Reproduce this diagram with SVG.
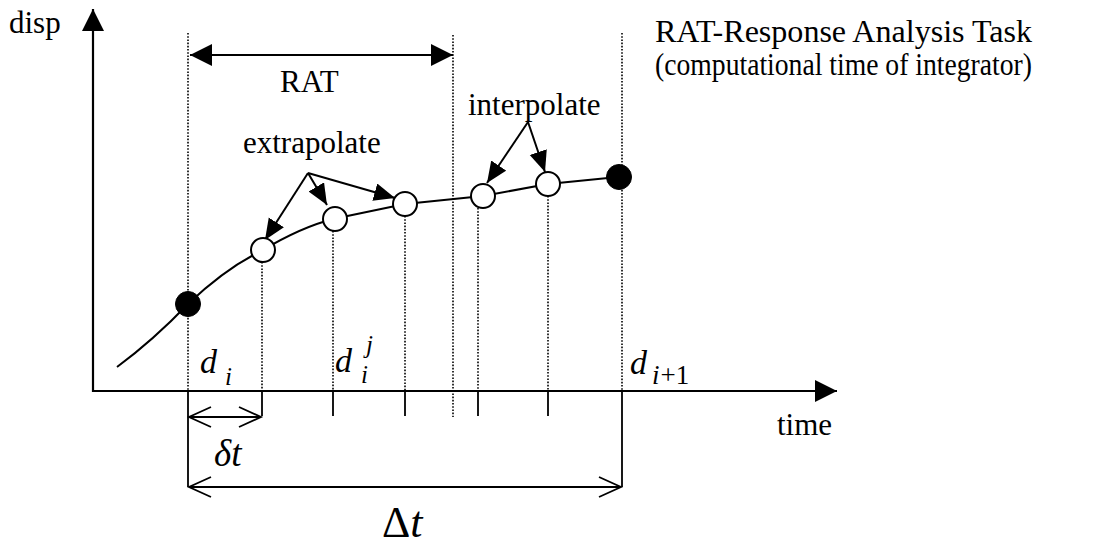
<svg xmlns="http://www.w3.org/2000/svg" width="1094" height="546" viewBox="0 0 1094 546">
<defs>
<style>
.t{font-family:"Liberation Serif","Times New Roman",serif;font-size:31px;fill:#000}
.m{font-family:"Liberation Serif","Times New Roman",serif;font-style:italic;fill:#000}
.ax{stroke:#000;stroke-width:2.2;fill:none}
.ln{stroke:#000;stroke-width:2;fill:none}
.dot{stroke:#000;stroke-width:1.6;stroke-dasharray:1.6 1.6;fill:none}
.tick{stroke:#000;stroke-width:1.8;fill:none}
.dim{stroke:#000;stroke-width:1.8;fill:none}
.open{fill:#fff;stroke:#000;stroke-width:2}
.full{fill:#000;stroke:#000;stroke-width:1}
</style>
<marker id="ah" markerUnits="userSpaceOnUse" markerWidth="24" markerHeight="20" refX="21" refY="9" orient="auto">
<path d="M0,0 L21,9 L0,18 z" fill="#000"/>
</marker>
<marker id="big" markerUnits="userSpaceOnUse" markerWidth="24" markerHeight="24" refX="22" refY="11" orient="auto-start-reverse">
<path d="M0,0 L22,11 L0,22 z" fill="#000"/>
</marker>
<marker id="oa" markerUnits="userSpaceOnUse" markerWidth="26" markerHeight="26" refX="23" refY="12" orient="auto-start-reverse">
<path d="M1,2 L23,12 L1,22" fill="none" stroke="#000" stroke-width="1.8"/>
</marker>
</defs>

<g id="connectors">
<path class="dot" d="M188,33 V391 M262,262 V391 M333,231 V391 M405,216 V391 M453,35 V417 M478,208 V391 M548,196 V391 M622,33 V391"/>
<path class="tick" d="M188,391 V487 M262,391 V416 M333,391 V416 M405,391 V416 M478,391 V416 M548,391 V416 M622,391 V487"/>
<line id="y-axis" class="ax" x1="93" y1="392" x2="93" y2="9" marker-end="url(#big)"/>
<line id="x-axis" class="ax" x1="92" y1="391" x2="837" y2="391" marker-end="url(#big)"/>
<line class="ax" x1="190" y1="55" x2="453" y2="55" marker-start="url(#big)" marker-end="url(#big)"/>
<line class="dim" x1="189" y1="417" x2="261" y2="417" marker-start="url(#oa)" marker-end="url(#oa)"/>
<line class="dim" x1="189" y1="487" x2="621" y2="487" marker-start="url(#oa)" marker-end="url(#oa)"/>
<path class="ln" d="M117,367 C140,350 165,328 188,304 C210,283 236,263 263,250 C288,235 310,225 333,219 L405,204 L483,196 L548,184 L618,177"/>
<line class="ln" x1="308" y1="173" x2="265" y2="240" marker-end="url(#ah)"/>
<line class="ln" x1="308" y1="173" x2="327" y2="205" marker-end="url(#ah)"/>
<line class="ln" x1="308" y1="173" x2="395" y2="198" marker-end="url(#ah)"/>
<line class="ln" x1="528" y1="122" x2="487" y2="183" marker-end="url(#ah)"/>
<line class="ln" x1="528" y1="122" x2="545" y2="172" marker-end="url(#ah)"/>
</g>

<g id="n-di"><circle class="full" cx="188" cy="304" r="12.5"/></g>
<g id="n-p1"><circle class="open" cx="263" cy="250" r="12"/></g>
<g id="n-p2"><circle class="open" cx="335" cy="219" r="12"/></g>
<g id="n-p3"><circle class="open" cx="405" cy="204" r="12"/></g>
<g id="n-p4"><circle class="open" cx="483" cy="196" r="12"/></g>
<g id="n-p5"><circle class="open" cx="548" cy="184" r="12"/></g>
<g id="n-di1"><circle class="full" cx="619" cy="177" r="12.5"/></g>

<g id="labels">
<text class="t" x="9" y="33" font-size="32">disp</text>
<text class="t" x="777" y="435" font-size="30">time</text>
<text class="t" x="280" y="92" font-size="32">RAT</text>
<text class="t" x="243" y="153" font-size="30">extrapolate</text>
<text class="t" x="468" y="115" font-size="32">interpolate</text>
<text class="t" x="655" y="42" font-size="30" textLength="377" lengthAdjust="spacingAndGlyphs">RAT-Response Analysis Task</text>
<text class="t" x="655" y="75" font-size="30" textLength="377" lengthAdjust="spacingAndGlyphs">(computational time of integrator)</text>
<text class="m" x="200" y="373" font-size="34">d</text>
<text class="m" x="225" y="385" font-size="25">i</text>
<text class="m" x="335" y="372" font-size="34">d</text>
<text class="m" x="361" y="383" font-size="25">i</text>
<text class="m" x="366" y="353" font-size="25">j</text>
<text class="m" x="630" y="374" font-size="34">d</text>
<text x="652" y="384" font-size="27" font-family="Liberation Serif, serif"><tspan font-style="italic">i</tspan><tspan dx="1">+1</tspan></text>
<text class="m" x="214" y="466" font-size="37">δt</text>
<text x="382" y="537" font-size="44" font-family="Liberation Serif, serif">Δ<tspan font-style="italic">t</tspan></text>
</g>
</svg>
